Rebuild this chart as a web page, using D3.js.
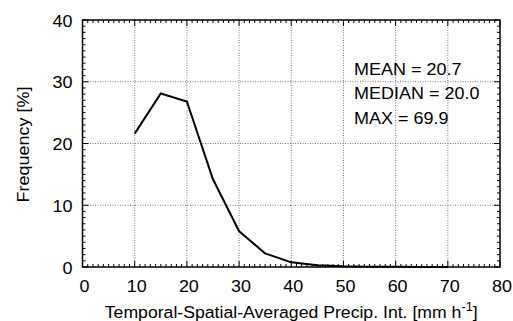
<!DOCTYPE html>
<html>
<head>
<meta charset="utf-8">
<script src="https://cdn.jsdelivr.net/npm/d3@7"></script>
<style>
  body { margin: 0; background: #fff; }
  text { font-family: "Liberation Sans", Arial, sans-serif; fill: #000; font-size: 16.5px; }
</style>
</head>
<body>
<svg id="chart" width="513" height="321"></svg>
<script>
// bin centres [mm h-1] and frequency [%]
const intensity = [10, 15, 20, 25, 30, 35, 40, 45, 50, 55, 60, 65, 70];
const frequency = [21.6, 28.1, 26.8, 14.2, 5.8, 2.2, 0.75, 0.3, 0.12, 0.05, 0.03, 0.02, 0.01];
const xTicks = [0, 10, 20, 30, 40, 50, 60, 70, 80];
const yTicks = [0, 10, 20, 30, 40];
const stats = ["MEAN = 20.7", "MEDIAN = 20.0", "MAX = 69.9"];

const margin = {top: 20, right: 13, bottom: 54, left: 82.5},
    width = 513 - margin.left - margin.right,
    height = 321 - margin.top - margin.bottom,
    sx = 1.09; // text in the picture is a little wider than tall

const svg = d3.select("#chart");
const g = svg.append("g")
    .attr("transform", `translate(${margin.left},${margin.top})`);

const x = d3.scaleLinear().domain([0, 80]).range([0, width]);
const y = d3.scaleLinear().domain([0, 40]).range([height, 0]);

// dotted grid
g.append("g").selectAll("line")
    .data(xTicks.slice(1, -1))
    .join("line")
    .attr("x1", d => x(d)).attr("x2", d => x(d))
    .attr("y1", 0).attr("y2", height)
    .attr("stroke", "#777").attr("stroke-width", 1)
    .attr("stroke-dasharray", "1,1.5");
g.append("g").selectAll("line")
    .data(yTicks.slice(1, -1))
    .join("line")
    .attr("y1", d => y(d)).attr("y2", d => y(d))
    .attr("x1", 0).attr("x2", width)
    .attr("stroke", "#777").attr("stroke-width", 1)
    .attr("stroke-dasharray", "1,1.5");

// inward ticks on all four sides (minor every 1 unit)
const minorX = d3.range(0, 81), minorY = d3.range(0, 41);
const tk = g.append("g").attr("stroke", "#000").attr("stroke-width", 1);
minorX.forEach(v => {
  const len = v % 10 === 0 ? 6 : 3;
  tk.append("line").attr("x1", x(v)).attr("x2", x(v)).attr("y1", height).attr("y2", height - len);
  tk.append("line").attr("x1", x(v)).attr("x2", x(v)).attr("y1", 0).attr("y2", len);
});
minorY.forEach(v => {
  const len = v % 10 === 0 ? 6 : 3;
  tk.append("line").attr("y1", y(v)).attr("y2", y(v)).attr("x1", 0).attr("x2", len);
  tk.append("line").attr("y1", y(v)).attr("y2", y(v)).attr("x1", width).attr("x2", width - len);
});

// frame
g.append("rect")
    .attr("width", width).attr("height", height)
    .attr("fill", "none").attr("stroke", "#000").attr("stroke-width", 1.5);

// tick labels
g.append("g").selectAll("text")
    .data(xTicks)
    .join("text")
    .attr("transform", d => `translate(${x(d) + 2},${height + 24.7}) scale(${sx},1)`)
    .attr("text-anchor", "middle")
    .text(d => d);
g.append("g").selectAll("text")
    .data(yTicks)
    .join("text")
    .attr("transform", d => `translate(-10,${y(d) + 6.5}) scale(${sx},1)`)
    .attr("text-anchor", "end")
    .text(d => d);

// line
g.append("path")
    .datum(intensity.map((d, i) => [d, frequency[i]]))
    .attr("fill", "none")
    .attr("stroke", "#000")
    .attr("stroke-width", 2)
    .attr("d", d3.line().x(d => x(d[0])).y(d => y(d[1])));

// stats
g.append("g").selectAll("text")
    .data(stats)
    .join("text")
    .attr("transform", (d, i) => `translate(271.5,${54.5 + i * 24.5}) scale(${sx},1)`)
    .text(d => d);

// axis titles
const xl = svg.append("text")
    .attr("transform", `translate(${margin.left + width / 2},318) scale(1.07,1)`)
    .attr("text-anchor", "middle");
xl.append("tspan").text("Temporal-Spatial-Averaged Precip. Int. [mm h");
xl.append("tspan").attr("dy", -7).style("font-size", "12px").text("-1");
xl.append("tspan").attr("dy", 7).text("]");

svg.append("text")
    .attr("transform", `translate(29,${margin.top + height / 2 + 1}) rotate(-90) scale(${sx},1)`)
    .attr("text-anchor", "middle")
    .text("Frequency [%]");
</script>
</body>
</html>
